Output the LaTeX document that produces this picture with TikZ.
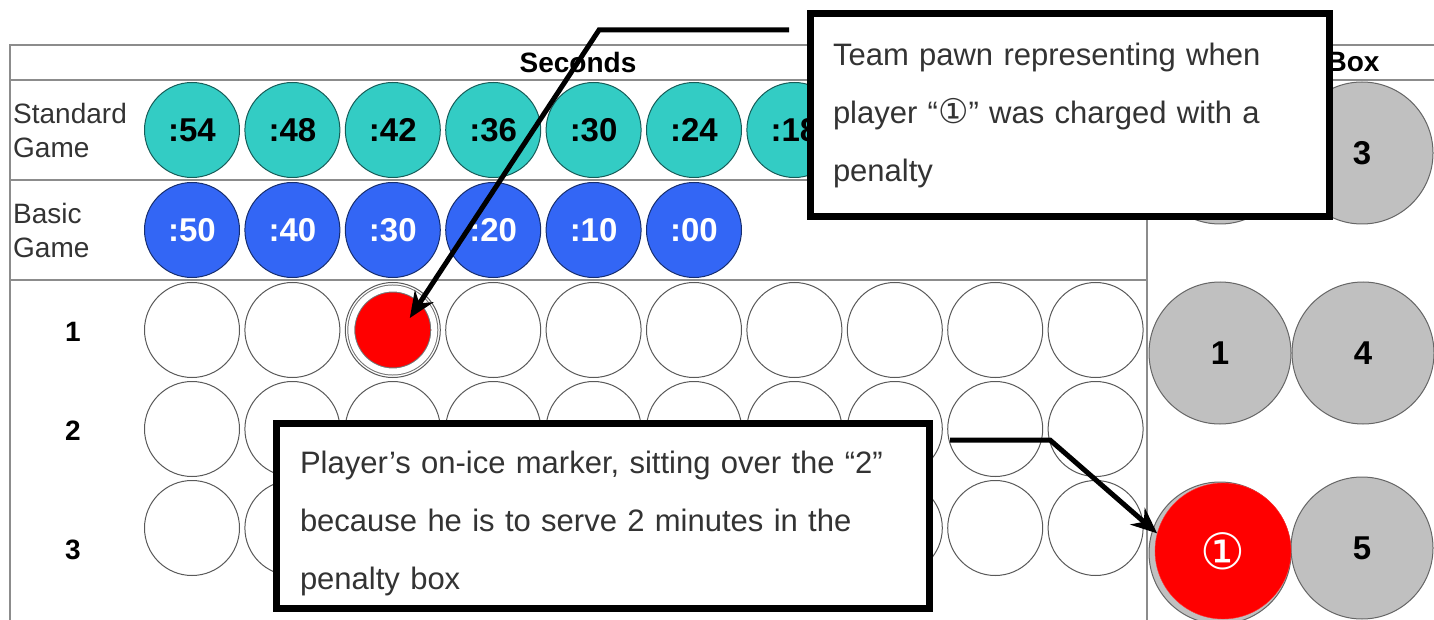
\documentclass[tikz,border=0pt]{standalone}
\usepackage{fontspec}
\setmainfont{Liberation Sans}
\newfontfamily\symfont{DejaVu Sans}
\usetikzlibrary{arrows.meta, positioning}
\definecolor{ink}{HTML}{333333}
\definecolor{rule}{HTML}{8C8C8C}
\definecolor{stdteal}{HTML}{33CCC4}
\definecolor{basblue}{HTML}{3366F5}
\definecolor{boxgray}{HTML}{C0C0C0}
\definecolor{pawnred}{HTML}{FF0000}
\tikzset{
  gridline/.style={draw=rule, line width=1.2pt},
  slot/.style={circle, draw=black!65, line width=1pt, fill=white,
               minimum size=95pt, inner sep=0pt},
  stdpawn/.style={slot, fill=stdteal, draw=black!55!stdteal, text=black,
                  font=\fontsize{33}{33}\selectfont\bfseries},
  baspawn/.style={slot, fill=basblue, draw=black!55!basblue, text=white,
                  font=\fontsize{33}{33}\selectfont\bfseries},
  boxpawn/.style={circle, fill=boxgray, draw=black!60, line width=1pt,
                  minimum size=142pt, inner sep=0pt, text=black,
                  font=\fontsize{33}{33}\selectfont\bfseries},
  headlbl/.style={font=\fontsize{28}{28}\selectfont\bfseries, text=black},
  rowlbl/.style={font=\fontsize{28}{34}\selectfont, text=ink, align=left, anchor=west,
                 inner sep=1pt},
  note/.style={draw=black, line width=7pt, fill=white, align=left, inner sep=0pt,
               font=\fontsize{31}{58}\selectfont, text=ink},
  callout/.style={-{Stealth[length=26pt, width=22pt]}, line width=5pt, draw=black},
}

\begin{document}
\begin{tikzpicture}[x=1pt, y=-1pt]
  \useasboundingbox (0,0) rectangle (1434,620);
  % table rules
  \draw[gridline] (10,620) -- (10,45) -- (1434,45);
  \draw[gridline] (10,80) -- (1434,80);
  \draw[gridline] (10,180) -- (1147,180);
  \draw[gridline] (10,280) -- (1147,280);
  \draw[gridline] (1147,80) -- (1147,620);

  \node[headlbl] (seconds) at (578,62) {Seconds};
  \node[headlbl] (boxhead) at (1353,62) {Box};
  \node[rowlbl] (stdlbl) at (12,130) {Standard\\Game};
  \node[rowlbl] (baslbl) at (12,230) {Basic\\Game};

  % clock pawns
  \foreach \t [count=\i] in {:54,:48,:42,:36,:30,:24,:18}
    \node[stdpawn] (std\i) at ({192+100.4*(\i-1)},130) {\t};
  \foreach \t [count=\i] in {:50,:40,:30,:20,:10,:00}
    \node[baspawn] (bas\i) at ({192+100.4*(\i-1)},230) {\t};

  % player rows
  \foreach \r/\y/\ly in {1/330/332, 2/429/431, 3/528/550} {
    \node[headlbl] (row\r) at (73,\ly) {\r};
    \foreach \c in {1,...,10}
      \node[slot] (g\r-\c) at ({192+100.4*(\c-1)},\y) {};
  }
  \node[circle, fill=pawnred, draw=black!55, line width=1pt, double=white,
        double distance=6pt, minimum size=83pt, inner sep=0pt] (pawn) at (g1-3) {};

  % penalty box
  \node[boxpawn] (pb0) at (1220,153) {};
  \node[boxpawn] (pb3) at (1362,153) {3};
  \node[boxpawn] (pb1) at (1220,353) {1};
  \node[boxpawn] (pb4) at (1363,353) {4};
  \node[boxpawn] (pb2) at (1220,553) {};
  \node[boxpawn] (pb5) at (1362,548) {5};
  \node[circle, fill=pawnred, draw=pawnred!80!white, minimum size=136pt, inner sep=0pt,
        text=white, font=\symfont\fontsize{50}{50}\selectfont] (marker) at (1223,551) {①};

  % notes
  \node[note, minimum width=519pt, minimum height=203pt, text width=474pt]
    (pawnnote) at (1070,115)
    {Team pawn representing when\\player “{\symfont\fontsize{34}{34}\selectfont ①}” was charged with a\\penalty};
  \node[note, minimum width=653pt, minimum height=185pt, text width=606pt]
    (markernote) at (603,516)
    {\rule{0pt}{38pt}Player’s on-ice marker, sitting over the “2”\\because he is to serve 2 minutes in the\\penalty box};

  \draw[callout] ([xshift=-18pt,yshift=-20pt]pawnnote.north west) -- ++(-190,0)
    -- ([xshift=17pt,yshift=12pt]pawn.center);
  \draw[callout] ([xshift=17pt,yshift=-20pt]markernote.north east) -- ++(100,0)
    -- (marker.165);
\end{tikzpicture}
\end{document}
